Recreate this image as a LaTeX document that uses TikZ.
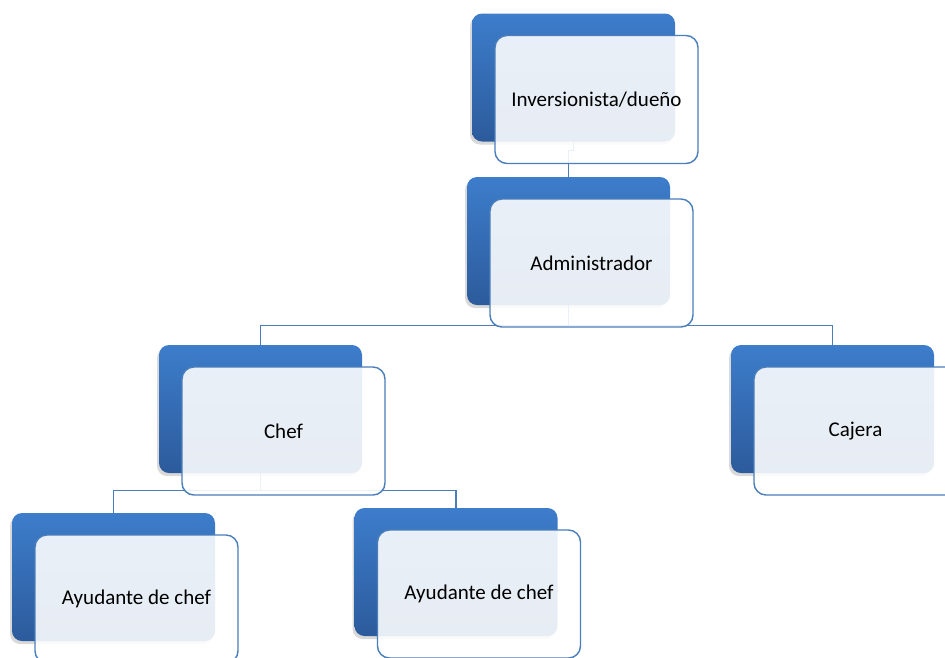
\documentclass[tikz,border=0pt]{standalone}
\usepackage{fontspec}
\setmainfont{Carlito}
\usetikzlibrary{calc,shadows}
\definecolor{linkblue}{HTML}{4A7EBB}
\definecolor{boxtop}{HTML}{3D7DCB}
\definecolor{boxbot}{HTML}{2C5B9C}
\tikzset{
  back/.style={rounded corners=10pt, minimum width=203pt, minimum height=128pt,
    top color=boxtop, bottom color=boxbot, draw=none,
    drop shadow={shadow xshift=-2pt, shadow yshift=-3pt, opacity=0.25, fill=black!60}},
  card/.style={rounded corners=12pt, minimum width=203pt, minimum height=128pt,
    fill=white, fill opacity=0.89, text opacity=1, draw=linkblue, line width=1.4pt,
    font=\fontsize{21}{24}\selectfont},
  link/.style={draw=linkblue, line width=1.4pt}
}

\begin{document}
\begin{tikzpicture}[x=1pt,y=-1pt]
    \useasboundingbox (0,0) rectangle (945,657);

          % blue back plates
          \node[back] (inv)  at (573.5,77.5) {};
          \node[back] (adm)  at (568.5,241)  {};
          \node[back] (chef) at (260.5,409)  {};
          \node[back] (caj)  at (832.5,409)  {};
          \node[back] (ay1)  at (113.5,577)  {};
          \node[back] (ay2)  at (456,572)    {};

          % connectors
          \draw[link] (inv.south) -- ++(0,9) -| (adm.north);
          \draw[link] (adm.south) -- ++(0,20) -| (chef.north);
          \draw[link] (adm.south) -- ++(0,20) -| (caj.north);
          \draw[link] (chef.south) -- ++(0,17) -| (ay1.north);
          \draw[link] (chef.south) -- ++(0,17) -| (ay2.north);

          % front cards with the labels
          \node[card] (inv_t)  at ($(inv)+(23,22)$)  {Inversionista/dueño};
          \node[card] (adm_t)  at ($(adm)+(23,22)$)  {Administrador};
          \node[card] (chef_t) at ($(chef)+(23,22)$) {Chef};
          \node[card] (caj_t)  at ($(caj)+(23,22)$)  {Cajera};
          \node[card] (ay1_t)  at ($(ay1)+(23,22)$)  {Ayudante de chef};
          \node[card] (ay2_t)  at ($(ay2)+(23,22)$)  {Ayudante de chef};
\end{tikzpicture}
\end{document}
